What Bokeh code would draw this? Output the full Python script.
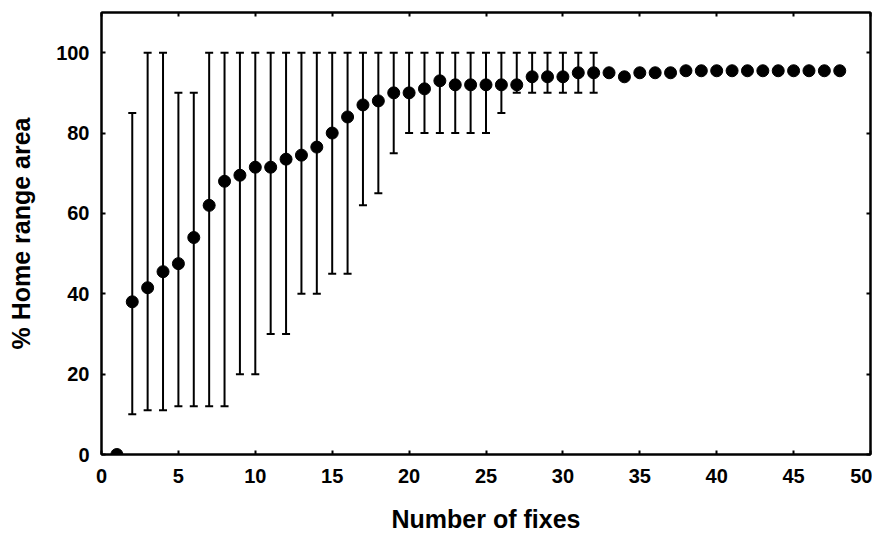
from bokeh.plotting import figure
from bokeh.models import (Range1d, FixedTicker, LinearAxis, ColumnDataSource,
                          Whisker, TeeHead)
from bokeh.embed import file_html
from bokeh.resources import INLINE

# ---- data ----
fixes = list(range(1, 49))
mean_area = [0, 38, 41.5, 45.5, 47.5, 54, 62, 68, 69.5, 71.5,
             71.5, 73.5, 74.5, 76.5, 80, 84, 87, 88, 90, 90,
             91, 93, 92, 92, 92, 92, 92, 94, 94, 94,
             95, 95, 95, 94, 95, 95, 95, 95.5, 95.5, 95.5,
             95.5, 95.5, 95.5, 95.5, 95.5, 95.5, 95.5, 95.5]

bar_fixes = list(range(2, 33))
bar_upper = [85, 100, 100, 90, 90, 100, 100, 100, 100, 100,
             100, 100, 100, 100, 100, 100, 100, 100, 100, 100,
             100, 100, 100, 100, 100, 100, 100, 100, 100, 100, 100]
bar_lower = [10, 11, 11, 12, 12, 12, 12, 20, 20, 30,
             30, 40, 40, 45, 45, 62, 65, 75, 80, 80,
             80, 80, 80, 80, 85, 90, 90, 90, 90, 90, 90]

x_ticks = [0, 5, 10, 15, 20, 25, 30, 35, 40, 45, 50]
y_ticks = [0, 20, 40, 60, 80, 100]

FONT = "Liberation Sans"

p = figure(frame_width=769, frame_height=442,
           output_backend="svg", toolbar_location=None,
           x_range=Range1d(0, 50), y_range=Range1d(0, 110),
           min_border_left=101, min_border_top=12, min_border_right=2,
           min_border_bottom=71)
p.grid.visible = False
p.outline_line_color = "black"
p.outline_line_width = 2
p.background_fill_color = "white"
p.border_fill_color = "white"

def style_axis(ax):
    ax.axis_line_color = "black"
    ax.axis_line_width = 2
    ax.major_tick_in = 4
    ax.major_tick_out = 0
    ax.major_tick_line_width = 2
    ax.major_tick_line_color = "black"
    ax.minor_tick_line_color = None
    ax.major_label_text_font = FONT
    ax.major_label_text_font_style = "bold"
    ax.major_label_text_font_size = "20px"
    ax.major_label_text_color = "black"
    ax.axis_label_text_font = FONT
    ax.axis_label_text_font_style = "bold"
    ax.axis_label_text_font_size = "25px"
    ax.axis_label_text_color = "black"

p.xaxis.ticker = FixedTicker(ticks=x_ticks)
p.yaxis.ticker = FixedTicker(ticks=y_ticks)
p.xaxis.axis_label = "Number of fixes"
p.yaxis.axis_label = "% Home range area"
style_axis(p.xaxis[0])
style_axis(p.yaxis[0])
p.xaxis.major_label_standoff = 14
p.xaxis.axis_label_standoff = 19
p.yaxis.major_label_standoff = 12
p.yaxis.axis_label_standoff = 18

top_ax = LinearAxis(ticker=FixedTicker(ticks=x_ticks),
                    major_label_overrides={t: "" for t in x_ticks})
style_axis(top_ax)
top_ax.major_label_text_font_size = "1px"
top_ax.major_label_standoff = 0
p.add_layout(top_ax, "above")

right_ax = LinearAxis(ticker=FixedTicker(ticks=y_ticks),
                      major_label_overrides={t: "" for t in y_ticks})
style_axis(right_ax)
right_ax.major_label_text_font_size = "1px"
right_ax.major_label_standoff = 0
p.add_layout(right_ax, "right")

bars = ColumnDataSource(dict(x=bar_fixes, upper=bar_upper, lower=bar_lower))
whisk = Whisker(base="x", upper="upper", lower="lower", source=bars,
                line_color="black", line_width=2,
                upper_head=TeeHead(size=8, line_color="black", line_width=2),
                lower_head=TeeHead(size=8, line_color="black", line_width=2))
p.add_layout(whisk)

pts = ColumnDataSource(dict(x=fixes, y=mean_area))
p.scatter("x", "y", source=pts, size=12, marker="circle",
          fill_color="black", line_color="black")

open("out.html", "w").write(file_html(p, INLINE))
